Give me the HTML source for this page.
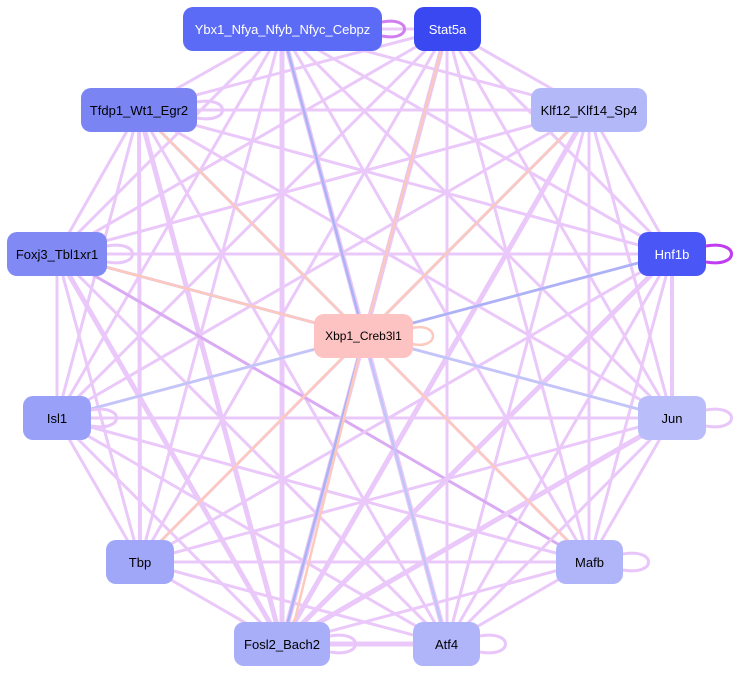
<!DOCTYPE html>
<html><head><meta charset="utf-8"><style>
body{margin:0;background:#fff;width:738px;height:674px;overflow:hidden}
svg{position:absolute;left:0;top:0}
.n{position:absolute;border-radius:10px;font-family:"Liberation Sans",sans-serif;font-size:13px;display:flex;align-items:center;justify-content:center;height:44px;color:#000}
</style></head><body>
<svg width="738" height="674">
<g stroke="#e9c6f9" stroke-width="3" fill="none" opacity="0.95">
<line x1="282" y1="29" x2="447" y2="29"/><line x1="282" y1="29" x2="139" y2="110"/><line x1="282" y1="29" x2="589" y2="110"/><line x1="282" y1="29" x2="57" y2="254"/><line x1="282" y1="29" x2="672" y2="254"/><line x1="282" y1="29" x2="57" y2="418"/><line x1="282" y1="29" x2="672" y2="418"/><line x1="282" y1="29" x2="140" y2="562"/><line x1="282" y1="29" x2="589" y2="562"/><line x1="282" y1="29" x2="282" y2="644" stroke-width="5"/><line x1="282" y1="29" x2="447" y2="644" stroke-width="5"/>
<line x1="447" y1="29" x2="139" y2="110"/><line x1="447" y1="29" x2="589" y2="110"/><line x1="447" y1="29" x2="57" y2="254"/><line x1="447" y1="29" x2="672" y2="254"/><line x1="447" y1="29" x2="57" y2="418"/><line x1="447" y1="29" x2="672" y2="418"/><line x1="447" y1="29" x2="140" y2="562"/><line x1="447" y1="29" x2="589" y2="562"/><line x1="447" y1="29" x2="282" y2="644" stroke-width="5"/><line x1="447" y1="29" x2="447" y2="644"/>
<line x1="139" y1="110" x2="589" y2="110"/><line x1="139" y1="110" x2="57" y2="254"/><line x1="139" y1="110" x2="672" y2="254"/><line x1="139" y1="110" x2="57" y2="418"/><line x1="139" y1="110" x2="672" y2="418"/><line x1="139" y1="110" x2="140" y2="562" stroke-width="4"/><line x1="139" y1="110" x2="589" y2="562"/><line x1="139" y1="110" x2="282" y2="644" stroke-width="5"/><line x1="139" y1="110" x2="447" y2="644"/>
<line x1="589" y1="110" x2="57" y2="254"/><line x1="589" y1="110" x2="672" y2="254"/><line x1="589" y1="110" x2="57" y2="418"/><line x1="589" y1="110" x2="672" y2="418"/><line x1="589" y1="110" x2="140" y2="562"/><line x1="589" y1="110" x2="589" y2="562"/><line x1="589" y1="110" x2="282" y2="644" stroke-width="5"/><line x1="589" y1="110" x2="447" y2="644"/>
<line x1="57" y1="254" x2="672" y2="254"/><line x1="57" y1="254" x2="57" y2="418"/><line x1="57" y1="254" x2="672" y2="418"/><line x1="57" y1="254" x2="140" y2="562"/><line x1="57" y1="254" x2="589" y2="562" stroke="#d9a6f3"/><line x1="57" y1="254" x2="282" y2="644" stroke-width="5"/><line x1="57" y1="254" x2="447" y2="644"/>
<line x1="672" y1="254" x2="57" y2="418"/><line x1="672" y1="254" x2="672" y2="418" stroke-width="4"/><line x1="672" y1="254" x2="140" y2="562"/><line x1="672" y1="254" x2="589" y2="562"/><line x1="672" y1="254" x2="282" y2="644" stroke-width="5"/><line x1="672" y1="254" x2="447" y2="644"/>
<line x1="57" y1="418" x2="672" y2="418"/><line x1="57" y1="418" x2="140" y2="562"/><line x1="57" y1="418" x2="589" y2="562"/><line x1="57" y1="418" x2="282" y2="644"/><line x1="57" y1="418" x2="447" y2="644"/>
<line x1="672" y1="418" x2="140" y2="562"/><line x1="672" y1="418" x2="589" y2="562"/><line x1="672" y1="418" x2="282" y2="644" stroke-width="5"/><line x1="672" y1="418" x2="447" y2="644"/>
<line x1="140" y1="562" x2="589" y2="562"/><line x1="140" y1="562" x2="282" y2="644"/><line x1="140" y1="562" x2="447" y2="644"/>
<line x1="589" y1="562" x2="282" y2="644"/><line x1="589" y1="562" x2="447" y2="644"/>
<line x1="282" y1="644" x2="447" y2="644" stroke-width="5"/>
</g>
<g stroke="#aab3f6" stroke-width="2.5" fill="none">
<line x1="282" y1="29" x2="364" y2="336"/><line x1="447" y1="29" x2="364" y2="336"/><line x1="589" y1="110" x2="364" y2="336"/><line x1="672" y1="254" x2="364" y2="336"/><line x1="672" y1="418" x2="364" y2="336" stroke="#c0c6f8"/><line x1="57" y1="418" x2="364" y2="336" stroke="#c0c6f8"/><line x1="447" y1="644" x2="364" y2="336" stroke="#c0c6f8"/><line x1="57" y1="254" x2="364" y2="336"/><line x1="139" y1="110" x2="364" y2="336"/><line x1="282" y1="644" x2="364" y2="336"/>
</g>
<g stroke="#fdc9bd" stroke-width="2.5" fill="none">
<line x1="364" y1="336" x2="139" y2="110"/><line x1="364" y1="336" x2="447" y2="29"/><line x1="364" y1="336" x2="589" y2="110"/><line x1="364" y1="336" x2="140" y2="562"/><line x1="364" y1="336" x2="289" y2="644"/><line x1="364" y1="336" x2="589" y2="562"/><line x1="364" y1="336" x2="57" y2="254"/>
<path d="M412 328 C440 322 440 350 412 344"/>
</g>
<g stroke="#e9c6f9" stroke-width="3" fill="none">
<path d="M382 22 C412 16 412 42 382 36" stroke="#d07ff0"/>
<path d="M706 246 C740 240 740 268 706 262" stroke="#c03cf0"/>
<path d="M706 410 C740 404 740 432 706 426"/>
<path d="M623 554 C657 548 657 576 623 570"/>
<path d="M480 636 C514 630 514 658 480 652"/>
<path d="M91 410 C125 404 125 432 91 426"/>
<path d="M107 246 C141 240 141 268 107 262"/>
<path d="M197 102 C231 96 231 124 197 118"/>
<path d="M330 636 C364 630 364 658 330 652"/>
</g>
</svg>
<div class="n" style="left:183px;top:7px;width:199px;background:#5b6bf6;color:#fff">Ybx1_Nfya_Nfyb_Nfyc_Cebpz</div>
<div class="n" style="left:414px;top:7px;width:67px;background:#3a48f2;color:#fff">Stat5a</div>
<div class="n" style="left:81px;top:88px;width:116px;background:#7a84f3">Tfdp1_Wt1_Egr2</div>
<div class="n" style="left:531px;top:88px;width:116px;background:#b3b8f9">Klf12_Klf14_Sp4</div>
<div class="n" style="left:7px;top:232px;width:100px;background:#8189f5">Foxj3_Tbl1xr1</div>
<div class="n" style="left:638px;top:232px;width:68px;background:#4a57f6;color:#fff">Hnf1b</div>
<div class="n" style="left:314px;top:314px;width:99px;background:#fdc2c2;font-size:12px">Xbp1_Creb3l1</div>
<div class="n" style="left:23px;top:396px;width:68px;background:#98a0f8">Isl1</div>
<div class="n" style="left:638px;top:396px;width:68px;background:#b9bdf9">Jun</div>
<div class="n" style="left:106px;top:540px;width:68px;background:#a0a6f8">Tbp</div>
<div class="n" style="left:556px;top:540px;width:67px;background:#b0b5f9">Mafb</div>
<div class="n" style="left:234px;top:622px;width:96px;background:#a8aef8">Fosl2_Bach2</div>
<div class="n" style="left:413px;top:622px;width:67px;background:#b0b5f9">Atf4</div>
</body></html>
